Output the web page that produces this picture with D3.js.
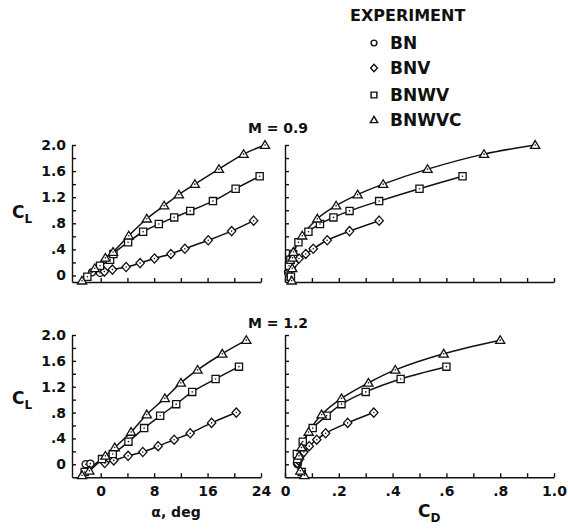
<!DOCTYPE html>
<html>
<head>
<meta charset="utf-8">
<script src="https://cdn.jsdelivr.net/npm/d3@7"></script>
<style>
  body { margin: 0; background: #fff; }
  svg { display: block; }
  text { font-family: "DejaVu Sans", sans-serif; font-weight: bold; fill: #111; }
</style>
</head>
<body>
<svg id="chart"></svg>
<script>
// configurations in the legend
const configs = ['BN', 'BNV', 'BNWV', 'BNWVC'];
const symbols = ['circle', 'diamond', 'square', 'triangle'];
const machs = ['0.9', '1.2'];

// M = 0.9
const m09AlphaBN = [-1.3, -0.1];
const m09ClBN = [0.05, 0.04];
const m09CdBN = [0.012, 0.012];

const m09AlphaBNV = [0.55, 1.75, 3.8, 5.9, 8.05, 10.5, 12.6, 16.1, 19.6, 22.9];
const m09ClBNV = [0.06, 0.09, 0.13, 0.19, 0.26, 0.33, 0.41, 0.54, 0.68, 0.84];
const m09CdBNV = [0.014, 0.018, 0.024, 0.035, 0.052, 0.077, 0.105, 0.157, 0.24, 0.35];

const m09AlphaBNWV = [-2.0, -0.1, 1.4, 1.9, 4.1, 6.35, 8.7, 11, 13.4, 16.8, 20.2, 23.8];
const m09ClBNWV = [-0.02, 0.15, 0.24, 0.33, 0.51, 0.67, 0.79, 0.89, 0.99, 1.14, 1.33, 1.52];
const m09CdBNWV = [0.022, 0.015, 0.02, 0.03, 0.05, 0.087, 0.13, 0.18, 0.24, 0.35, 0.5, 0.66];

const m09AlphaBNWVC = [-2.8, -0.9, 0.7, 1.85, 4.2, 6.9, 9.5, 11.7, 14.1, 17.7, 21.4, 24.6];
const m09ClBNWVC = [-0.08, 0.11, 0.27, 0.36, 0.61, 0.87, 1.07, 1.24, 1.40, 1.63, 1.86, 2.0];
const m09CdBNWVC = [0.025, 0.027, 0.028, 0.031, 0.064, 0.12, 0.19, 0.27, 0.365, 0.53, 0.74, 0.93];

// M = 1.2
const m12AlphaBN = [-2.25, -1.55];
const m12ClBN = [0.0, 0.01];
const m12CdBN = [0.047, 0.046];

const m12AlphaBNV = [0.6, 1.95, 4.1, 6.3, 8.6, 11, 13.4, 16.6, 20.3];
const m12ClBNV = [0.02, 0.06, 0.13, 0.19, 0.28, 0.38, 0.48, 0.64, 0.80];
const m12CdBNV = [0.046, 0.05, 0.058, 0.07, 0.09, 0.118, 0.151, 0.233, 0.33];

const m12AlphaBNWV = [-2.4, 0.2, 1.8, 4.15, 6.5, 8.9, 11.3, 13.7, 17.2, 20.7];
const m12ClBNWV = [-0.12, 0.08, 0.16, 0.35, 0.56, 0.75, 0.93, 1.12, 1.32, 1.51];
const m12CdBNWV = [0.062, 0.046, 0.044, 0.066, 0.103, 0.155, 0.21, 0.30, 0.43, 0.60];

const m12AlphaBNWVC = [-2.8, -1.7, 0.7, 2.1, 4.55, 6.9, 9.6, 12, 14.5, 18.2, 21.8];
const m12ClBNWVC = [-0.17, -0.1, 0.13, 0.26, 0.5, 0.77, 1.02, 1.26, 1.46, 1.71, 1.92];
const m12CdBNWVC = [0.072, 0.057, 0.052, 0.061, 0.088, 0.136, 0.21, 0.31, 0.41, 0.59, 0.80];

// tick values
const alphaTicks = [0, 4, 8, 12, 16, 20, 24];
const alphaLabels = [0, 8, 16, 24];
const cdTicks = [0, 0.1, 0.2, 0.3, 0.4, 0.5, 0.6, 0.7, 0.8, 0.9, 1.0];
const cdLabels = ['0', '.2', '.4', '.6', '.8', '1.0'];
const clTicks = [0, 0.2, 0.4, 0.6, 0.8, 1.0, 1.2, 1.4, 1.6, 1.8, 2.0];
const clLabels = ['0', '.4', '.8', '1.2', '1.6', '2.0'];

const [width, height] = [568, 530];

const svg = d3.select('#chart')
  .attr('width', width)
  .attr('height', height);

// build the series per mach number
const raw = {
  '0.9': [[m09AlphaBN, m09ClBN, m09CdBN], [m09AlphaBNV, m09ClBNV, m09CdBNV],
          [m09AlphaBNWV, m09ClBNWV, m09CdBNWV], [m09AlphaBNWVC, m09ClBNWVC, m09CdBNWVC]],
  '1.2': [[m12AlphaBN, m12ClBN, m12CdBN], [m12AlphaBNV, m12ClBNV, m12CdBNV],
          [m12AlphaBNWV, m12ClBNWV, m12CdBNWV], [m12AlphaBNWVC, m12ClBNWVC, m12CdBNWVC]]
};
function seriesFor(m) {
  return raw[m].map(function(s, i) {
    return {
      name: configs[i],
      symbol: symbols[i],
      points: s[0].map(function(a, j) { return { alpha: a, cl: s[1][j], cd: s[2][j] }; })
    };
  });
}

// scales
const xAlpha = d3.scaleLinear().domain([-4.3, 24]).range([72, 261]);
const xCd = d3.scaleLinear().domain([0, 1.0]).range([285, 554]);
const yScales = {
  '0.9': d3.scaleLinear().domain([-0.1, 2.0]).range([282, 145]),
  '1.2': d3.scaleLinear().domain([-0.2, 2.0]).range([477.2, 335])
};

function markerPath(type) {
  if (type === 'circle') {
    const r = 3.6;
    return 'M' + r + ',0A' + r + ',' + r + ' 0 1,1 ' + (-r) + ',0A' + r + ',' + r + ' 0 1,1 ' + r + ',0Z';
  }
  if (type === 'diamond') return 'M0,-4.6L4.2,0L0,4.6L-4.2,0Z';
  if (type === 'square') return 'M-3.6,-3.6H3.6V3.6H-3.6Z';
  return 'M0,-4.4L4.6,3.3H-4.6Z';
}

function isMult(d, step) {
  return Math.abs(d / step - Math.round(d / step)) < 1e-6;
}

function styleAxis(g) {
  g.attr('font-family', null).attr('font-size', 14);
  g.selectAll('path, line').attr('stroke', '#111').attr('stroke-width', 1.4);
}

function drawPanel(m, isBottom) {
  const y = yScales[m];
  const series = seriesFor(m);

  // left panel: CL vs alpha
  svg.append('g')
    .attr('transform', 'translate(' + xAlpha.range()[0] + ',0)')
    .call(d3.axisLeft(y).tickValues(clTicks).tickSizeInner(-4).tickSizeOuter(0).tickPadding(6)
      .tickFormat(function(d) {
        return isMult(d, 0.4) ? clLabels[Math.round(d / 0.4)] : '';
      }))
    .call(styleAxis);

  svg.append('g')
    .attr('transform', 'translate(0,' + y.range()[0] + ')')
    .call(d3.axisBottom(xAlpha).tickValues(alphaTicks).tickSizeInner(-4).tickSizeOuter(0).tickPadding(9)
      .tickFormat(function(d) {
        return isBottom && alphaLabels.indexOf(d) >= 0 ? String(d) : '';
      }))
    .call(styleAxis);

  // right panel: CL vs CD
  svg.append('g')
    .attr('transform', 'translate(' + xCd.range()[0] + ',0)')
    .call(d3.axisLeft(y).tickValues(clTicks).tickSizeInner(-4).tickSizeOuter(0).tickFormat(''))
    .call(styleAxis);

  svg.append('g')
    .attr('transform', 'translate(0,' + y.range()[0] + ')')
    .call(d3.axisBottom(xCd).tickValues(cdTicks).tickSizeInner(-4).tickSizeOuter(0).tickPadding(9)
      .tickFormat(function(d) {
        return isBottom && isMult(d, 0.2) ? cdLabels[Math.round(d / 0.2)] : '';
      }))
    .call(styleAxis);

  const lineA = d3.line()
    .x(function(d) { return xAlpha(d.alpha); })
    .y(function(d) { return y(d.cl); })
    .curve(d3.curveCatmullRom.alpha(0.5));
  const lineD = d3.line()
    .x(function(d) { return xCd(d.cd); })
    .y(function(d) { return y(d.cl); })
    .curve(d3.curveCatmullRom.alpha(0.5));

  [[lineA, 'alpha', xAlpha], [lineD, 'cd', xCd]].forEach(function(p) {
    const g = svg.append('g');
    g.selectAll('path.curve')
      .data(series)
      .enter()
      .append('path')
      .attr('class', 'curve')
      .attr('fill', 'none')
      .attr('stroke', '#111')
      .attr('stroke-width', 1.5)
      .attr('d', function(d) { return p[0](d.points); });

    series.forEach(function(s) {
      const mk = g.selectAll('g.m-' + s.name)
        .data(s.points)
        .enter()
        .append('g')
        .attr('transform', function(d) { return 'translate(' + p[2](d[p[1]]) + ',' + y(d.cl) + ')'; });
      mk.append('path')
        .attr('d', markerPath(s.symbol))
        .attr('fill', '#fff')
        .attr('stroke', '#111')
        .attr('stroke-width', 1.3);
      mk.append('circle')
        .attr('r', 0.8)
        .attr('fill', '#111');
    });
  });

  // mach title
  svg.append('text')
    .attr('x', 278)
    .attr('y', isBottom ? 328 : 133)
    .attr('text-anchor', 'middle')
    .attr('font-size', 14)
    .text('M = ' + m);

  // CL label
  const cl = svg.append('text')
    .attr('x', 12)
    .attr('y', isBottom ? 404 : 218);
  cl.append('tspan').attr('font-size', 17).text('C');
  cl.append('tspan').attr('font-size', 12).attr('dy', 5).text('L');
}

drawPanel(machs[0], false);
drawPanel(machs[1], true);

// x axis titles
svg.append('text')
  .attr('x', 176)
  .attr('y', 517)
  .attr('text-anchor', 'middle')
  .attr('font-size', 14)
  .text('\u03b1, deg');

const cd = svg.append('text')
  .attr('x', 418)
  .attr('y', 517);
cd.append('tspan').attr('font-size', 17).text('C');
cd.append('tspan').attr('font-size', 12).attr('dy', 5).text('D');

// legend
svg.append('text')
  .attr('x', 350)
  .attr('y', 21)
  .attr('font-size', 16)
  .text('EXPERIMENT');

const legend = svg.append('g')
  .selectAll('g')
  .data(configs)
  .enter()
  .append('g')
  .attr('transform', function(d, i) { return 'translate(374,' + [43, 68, 95, 120][i] + ')'; });

legend.append('path')
  .attr('d', function(d, i) { return markerPath(symbols[i]); })
  .attr('transform', 'scale(0.8)')
  .attr('fill', '#fff')
  .attr('stroke', '#111')
  .attr('stroke-width', 1.8);

legend.append('text')
  .attr('x', 16)
  .attr('y', 6)
  .attr('font-size', 17)
  .text(function(d) { return d; });
</script>
</body>
</html>
